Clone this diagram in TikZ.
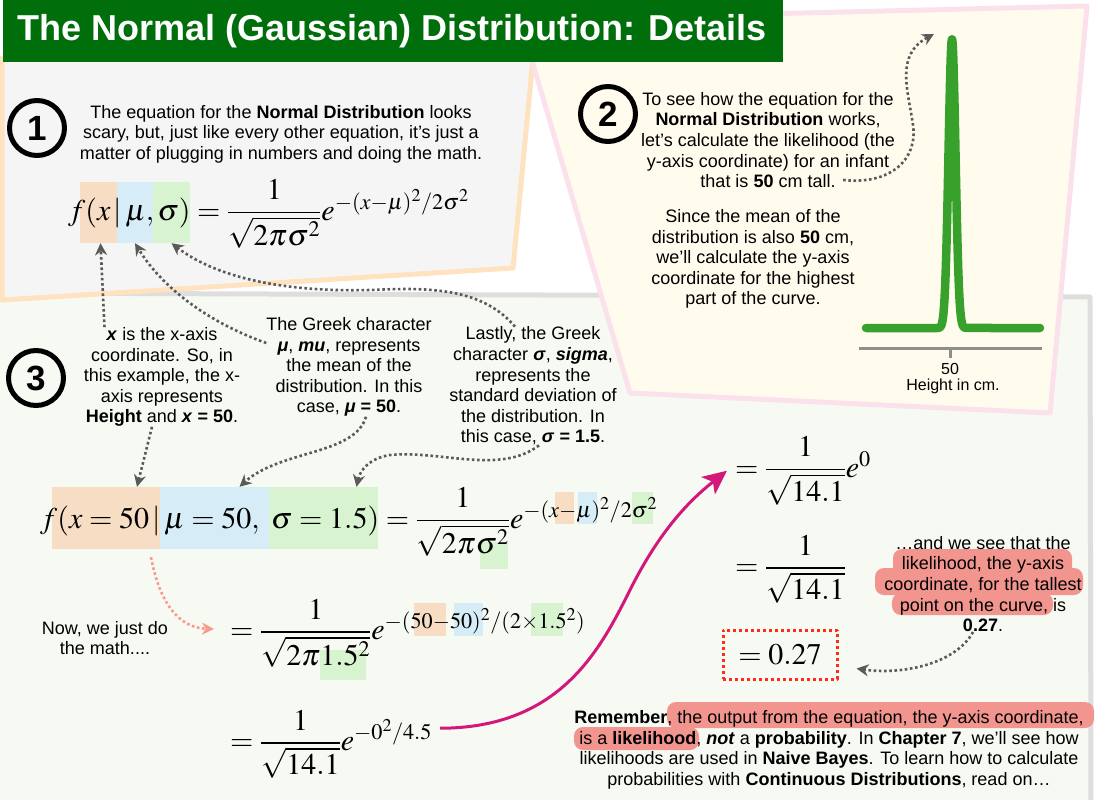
\documentclass[tikz,border=0pt]{standalone}
\usepackage{amsmath}
\usepackage{mathptmx}
\usepackage[no-math]{fontspec}
\setmainfont{Liberation Sans}
\usetikzlibrary{arrows.meta,fit}
\definecolor{titlegreen}{HTML}{006E0B}
\definecolor{greyfill}{HTML}{F5F5F5}
\definecolor{peachline}{HTML}{FFE2C0}
\definecolor{creamfill}{HTML}{FFFCEE}
\definecolor{pinkline}{HTML}{FBE1EB}
\definecolor{mintfill}{HTML}{F6FAF2}
\definecolor{greyline}{HTML}{DEDEDE}
\definecolor{xorange}{HTML}{F6DDC3}
\definecolor{mublue}{HTML}{D6ECF7}
\definecolor{sigmagreen}{HTML}{D8F3CF}
\definecolor{salmon}{HTML}{F2958F}
\definecolor{swooppink}{HTML}{D3177B}
\definecolor{dotgrey}{HTML}{5A5A5A}
\definecolor{peachdot}{HTML}{FA9A8C}
\definecolor{boxred}{HTML}{FF2A1A}
\definecolor{curvegreen}{HTML}{38A12B}
\definecolor{axisgrey}{HTML}{8E8E8E}
\tikzset{
  every picture/.style={line join=round, >=Stealth},
  panel/.style={line width=5pt, line join=round},
  txt/.style={font=\fontsize{18}{20.6}\selectfont, align=center, inner sep=0pt},
  stepnum/.style={circle, draw, line width=5pt, minimum size=55pt, inner sep=0pt, font=\fontsize{35}{35}\selectfont\bfseries},
  eqn/.style={font=\fontsize{30}{36}\selectfont, inner sep=0pt, anchor=base west},
  tint/.style={inner sep=0pt, draw=none},
  dotarrow/.style={draw=dotgrey, line width=2.6pt, dash pattern=on 2.6pt off 2.6pt, -{Stealth[length=12pt,width=12pt]}},
  hilite/.style={fill=salmon, rounded corners=9pt},
}

\begin{document}
\begin{tikzpicture}[x=1pt,y=-1pt]
\useasboundingbox (0,0) rectangle (1095,800);
% panels
\draw[panel, draw=greyline, fill=mintfill] (-5,293) -- (1090,297) -- (1091,806) -- (-5,806) -- cycle;
\draw[panel, draw=peachline, fill=greyfill] (2,58) -- (533,58) -- (513,268) -- (2,300) -- cycle;
\draw[panel, draw=pinkline, fill=creamfill] (520,20) -- (1087,6) -- (1050,413) -- (630,393) -- cycle;
\node[fill=titlegreen, text=white, anchor=north west, inner xsep=14pt, inner ysep=0pt, minimum height=62pt, font=\fontsize{36}{40}\selectfont\bfseries] (title) at (3,0) {\makebox[752pt][l]{The Normal (Gaussian) Distribution: Details}};

% step 1
\node[stepnum] (one) at (37,128) {1};
\node[txt] (intro) at (281,134) {The equation for the \textbf{Normal Distribution} looks\\ scary, but, just like every other equation, it’s just a\\ matter of plugging in numbers and doing the math.};
\node[tint, fill=xorange, fit={(80,182) (117,243)}] (xbox1) {};
\node[tint, fill=mublue, fit={(117,182) (153,243)}] (mubox1) {};
\node[tint, fill=sigmagreen, fit={(153,182) (190,243)}] (sigbox1) {};
\node[eqn] (eq1) at (68,220) {$f(x\,|\,\mu, \sigma) = \dfrac{1}{\sqrt{2\pi\sigma^2}}e^{-(x-\mu)^2/2\sigma^2}$};

% step 2
\node[stepnum] (two) at (608,114) {2};
\node[txt] (infant) at (768,140) {To see how the equation for the\\ \textbf{Normal Distribution} works,\\ let’s calculate the likelihood (the\\ y-axis coordinate) for an infant\\ that is \textbf{50} cm tall.};
\node[txt] (mean) at (753,259) {Since the mean of the\\ distribution is also \textbf{50} cm,\\ we’ll calculate the y-axis\\ coordinate for the highest\\ part of the curve.};
\draw[curvegreen, line width=8.5pt, line cap=round] (866,328) -- (937,328) -- plot[domain=937:967, samples=80] (\x,{328-289*exp(-((\x-952)^2)/24.5)}) -- (1040,328);
\draw[axisgrey, line width=3pt] (859,348) -- (1042,348);
\draw[axisgrey, line width=3pt] (950,348) -- (950,358);
\node[txt, font=\fontsize{16}{18}\selectfont] (fifty) at (950,369) {50};
\node[txt, font=\fontsize{16}{18}\selectfont] (heightlab) at (953,386) {Height in cm.};
\coordinate (peaktip) at (934,34);
\draw[dotarrow] ([xshift=-52pt,yshift=8pt]infant.south east) .. controls (890,185) and (918,160) .. (913,125) .. controls (908,90) and (895,55) .. (peaktip);

% step 3
\node[stepnum] (three) at (36,378) {3};
\node[txt] (xnote) at (162,377) {\textbf{\textit{x}} is the x-axis\\ coordinate. So, in\\ this example, the x-\\ axis represents\\ \textbf{Height} and \textbf{\textit{x} = 50}.};
\node[txt] (munote) at (349,367) {The Greek character\\ \textbf{\textit{μ}}, \textbf{\textit{mu}}, represents\\ the mean of the\\ distribution. In this\\ case, \textbf{\textit{μ} = 50}.};
\node[txt] (signote) at (533,386) {Lastly, the Greek\\ character \textbf{\textit{σ}}, \textbf{\textit{sigma}},\\ represents the\\ standard deviation of\\ the distribution. In\\ this case, \textbf{\textit{σ} = 1.5}.};
\draw[dotarrow] ([xshift=6pt]xnote.north -| xbox1.south) -- ([xshift=2pt]xbox1.south);
\draw[dotarrow] ([yshift=24pt]munote.west) .. controls (215,325) and (165,292) .. (mubox1.south);
\draw[dotarrow] ([xshift=-18pt]signote.north) .. controls (480,285) and (420,288) .. (370,290) .. controls (290,292) and (220,280) .. (sigbox1.south);

\node[tint, fill=xorange, fit={(52,487) (160,549)}] (xbox3) {};
\node[tint, fill=mublue, fit={(160,487) (269,549)}] (mubox3) {};
\node[tint, fill=sigmagreen, fit={(269,487) (378,549)}] (sigbox3) {};
\node[tint, fill=sigmagreen, fit={(480,542) (508,569)}] (sigden3) {};
\node[tint, fill=xorange, fit={(555,492) (574,524)}] (xexp3) {};
\node[tint, fill=mublue, fit={(578,492) (597,524)}] (muexp3) {};
\node[tint, fill=sigmagreen, fit={(632,492) (653,524)}] (sigexp3) {};
\node[eqn] (eq3) at (40,528) {$f(x = 50\,|\,\mu = 50,\ \sigma = 1.5) = \dfrac{1}{\sqrt{2\pi\sigma^2}}e^{-(x-\mu)^2/2\sigma^2}$};
\draw[dotarrow] ([xshift=-10pt]xnote.south) -- ([xshift=31pt]xbox3.north);
\draw[dotarrow] ([xshift=17pt]munote.south) .. controls (355,455) and (280,450) .. ([xshift=25pt]mubox3.north);
\draw[dotarrow] ([xshift=6pt]signote.south) .. controls (500,475) and (440,450) .. (390,455) .. controls (370,458) and (360,470) .. ([xshift=33pt]sigbox3.north);

\node[txt] (mathnote) at (105,638) {Now, we just do\\ the math....};
\node[tint, fill=sigmagreen, fit={(320,650) (366,680)}] (sigden4) {};
\node[tint, fill=xorange, fit={(414,603) (446,636)}] (xexp4) {};
\node[tint, fill=mublue, fit={(454,603) (483,636)}] (muexp4) {};
\node[tint, fill=sigmagreen, fit={(531,603) (563,636)}] (sigexp4) {};
\node[eqn] (eq4) at (230,639.5) {$=\dfrac{1}{\sqrt{2\pi 1.5^2}}e^{-(50-50)^2/(2\times1.5^2)}$};
\coordinate (mathtip) at (214,629);
\draw[dotarrow, draw=peachdot] ([xshift=45pt,yshift=-8pt]xbox3.south) .. controls (160,605) and (180,628) .. (mathtip);
\node[eqn] (eq5) at (230,750.5) {$=\dfrac{1}{\sqrt{14.1}}e^{-0^2/4.5}$};

\node[eqn] (eq6) at (735,477) {$=\dfrac{1}{\sqrt{14.1}}e^{0}$};
\node[eqn] (eq7) at (735,575.5) {$=\dfrac{1}{\sqrt{14.1}}$};
\node[font=\fontsize{30}{36}\selectfont, draw=boxred, line width=3pt, dash pattern=on 3pt off 3pt, minimum width=114pt, minimum height=49pt, inner sep=0pt] (eq8) at (780,654.5) {$=0.27$};
\draw[swooppink, line width=3pt, -{Stealth[length=24pt,width=22pt,inset=6pt]}] ([xshift=8pt,yshift=16pt]eq5.east) .. controls (560,728) and (600,650) .. (630,590) .. controls (660,530) and (690,500) .. ([xshift=-8pt]eq6.west);

% the verdict
\fill[hilite] (893,549) rectangle (1072,577);
\fill[hilite] (875,568) rectangle (1083,595);
\fill[hilite] (892,593) rectangle (1053,615);
\node[txt] (tallnote) at (983,584) {…and we see that the\\ likelihood, the y-axis\\ coordinate, for the tallest\\ point on the curve, is\\ \textbf{0.27}.};
\draw[dotarrow] ([xshift=-10pt]tallnote.south) .. controls (955,665) and (900,675) .. ([xshift=18pt,yshift=-14pt]eq8.east);

\fill[hilite] (667,702) rectangle (1094,728);
\fill[hilite] (574,727) rectangle (699,750);
\node[txt] (remember) at (829,750) {\textbf{Remember}, the output from the equation, the y-axis coordinate,\\ is a \textbf{likelihood}, \textbf{\textit{not}} a \textbf{probability}. In \textbf{Chapter 7}, we’ll see how\\ likelihoods are used in \textbf{Naive Bayes}. To learn how to calculate\\ probabilities with \textbf{Continuous Distributions}, read on…};
\end{tikzpicture}
\end{document}
